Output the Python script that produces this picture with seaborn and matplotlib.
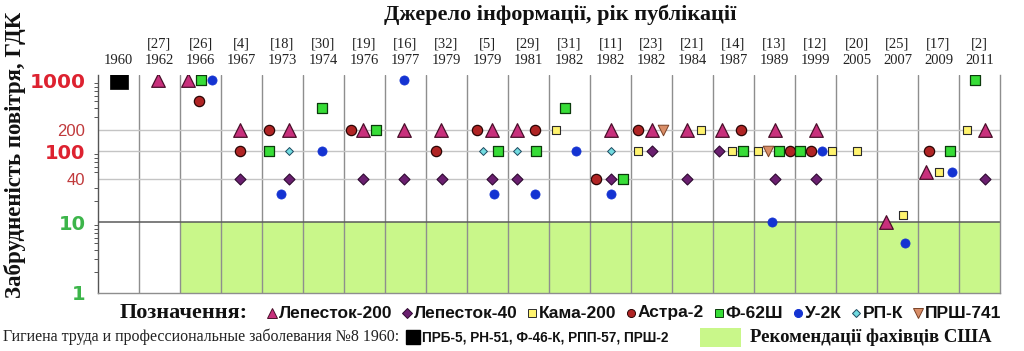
import numpy as np
import pandas as pd
import matplotlib
matplotlib.use("Agg")
import matplotlib.pyplot as plt
from matplotlib.lines import Line2D
from matplotlib.patches import Rectangle
from matplotlib.ticker import NullFormatter, LogLocator
import seaborn as sns

# ---------------- data ----------------
refs = ["", "[27]", "[26]", "[4]", "[18]", "[30]", "[19]", "[16]", "[32]", "[5]", "[29]",
        "[31]", "[11]", "[23]", "[21]", "[14]", "[13]", "[12]", "[20]", "[25]", "[17]", "[2]"]
years = ["1960", "1962", "1966", "1967", "1973", "1974", "1976", "1977", "1979", "1979", "1981",
         "1982", "1982", "1982", "1984", "1987", "1989", "1999", "2005", "2007", "2009", "2011"]

# x = column index (source) with in-column position, y = pollution in MAC units
lep200_x = [0.96, 1.70, 2.96, 4.16, 5.96, 6.96, 7.86, 9.11, 9.72, 12.0, 13.0, 13.87, 14.72, 16.0, 17.0, 18.72, 19.70, 21.13]
lep200_y = [1000, 1000, 200, 200, 200, 200, 200, 200, 200, 200, 200, 200, 200, 200, 200, 10, 50, 200]

lep40_x = [2.96, 4.16, 5.96, 6.96, 7.89, 9.11, 9.72, 12.0, 13.0, 13.87, 14.64, 16.0, 17.0, 21.13]
lep40_y = [40, 40, 40, 40, 40, 40, 40, 40, 100, 40, 100, 40, 40, 40]

kama_x = [10.68, 12.67, 14.20, 14.96, 15.60, 17.40, 18.0, 19.13, 20.0, 20.70]
kama_y = [200, 100, 200, 100, 100, 100, 100, 12.5, 50, 200]

astra_x = [1.96, 2.96, 3.68, 5.66, 7.74, 8.74, 10.16, 11.65, 12.67, 15.18, 16.38, 16.88, 19.76]
astra_y = [500, 100, 200, 200, 100, 200, 200, 40, 200, 200, 100, 100, 100]

f62_x = [2.0, 3.66, 4.96, 6.28, 9.26, 10.18, 10.89, 12.30, 15.23, 16.11, 16.63, 20.28, 20.89]
f62_y = [1000, 100, 400, 200, 100, 100, 400, 40, 100, 100, 100, 100, 1000]

u2k_x = [2.28, 3.96, 4.96, 6.96, 9.16, 10.16, 11.16, 12.0, 15.94, 17.16, 19.18, 20.33]
u2k_y = [1000, 25, 100, 1000, 25, 25, 100, 25, 10, 100, 5, 50]

rpk_x = [4.16, 8.89, 9.72, 12.0]
rpk_y = [100, 100, 100, 100]

prsh_x = [13.27, 15.84]
prsh_y = [200, 100]

prb_x = [0.0]
prb_y = [1000]

us_range_x = [1.5, 21.5]
us_range_lo = [1, 1]
us_range_hi = [10, 10]

ytick_vals = [1, 10, 40, 100, 200, 1000]

# ---------------- style ----------------
sns.set_theme(style="white")
plt.rcParams["font.family"] = ["Liberation Sans", "DejaVu Sans"]
SERIF = ["Liberation Serif", "DejaVu Serif"]

W, H = 1024, 351
fig = plt.figure(figsize=(W / 100, H / 100), dpi=100)
fig.patch.set_facecolor("white")
ax = fig.add_axes([98 / W, 1 - 293 / H, (1000 - 98) / W, (293 - 75) / H])
ax.set_facecolor("white")

ax.set_yscale("log")
ax.set_xlim(-0.5, 21.5)
ax.set_ylim(1, 1180)

# US recommendation area
ax.fill_between(us_range_x, us_range_lo, us_range_hi, color="#c9f78a", lw=0, zorder=0)

# grid
for v in [40, 100, 200]:
    ax.axhline(v, color="#c4c4c4", lw=1, zorder=1)
ax.axhline(10, color="#5a5a5a", lw=1.1, zorder=1)

series = [
    (prb_x, prb_y, "s", 12.5, "#000000", "#000000", 0.5),
    (lep200_x, lep200_y, "^", 9.8, "#c8307c", "#4a0f2a", 0.9),
    (lep40_x, lep40_y, "D", 5.6, "#6a1f6f", "#2e0a30", 0.8),
    (kama_x, kama_y, "s", 5.4, "#fff36e", "#2b2b2b", 0.8),
    (astra_x, astra_y, "o", 7.4, "#b02424", "#2a0505", 0.9),
    (f62_x, f62_y, "s", 6.6, "#37dd37", "#0c3a0c", 0.9),
    (u2k_x, u2k_y, "o", 6.6, "#1433d2", "#1433d2", 0.5),
    (rpk_x, rpk_y, "D", 4.0, "#72dbe0", "#1e4a60", 0.7),
    (prsh_x, prsh_y, "v", 7.6, "#d98e68", "#7a4226", 0.7),
]
for xs, ys, m, ms, fc, ec, lw in series:
    df = pd.DataFrame({"x": xs, "y": ys})
    sns.scatterplot(data=df, x="x", y="y", marker=m, s=ms ** 2, color=fc,
                    edgecolor=ec, linewidth=lw, ax=ax, zorder=3, legend=False)
ax.set_xlabel("")
ax.set_ylabel("")

# x: top labels + column separators
ax.xaxis.tick_top()
ax.set_xticks(np.arange(len(years)))
ax.set_xticklabels([(r + "\n" + y) if r else y for r, y in zip(refs, years)],
                   fontfamily=SERIF, fontsize=10.5, linespacing=1.3, color="#222222")
ax.set_xticks(np.arange(0.5, len(years) - 0.5, 1), minor=True)
ax.tick_params(axis="x", which="both", length=0, pad=6)
ax.grid(which="minor", axis="x", color="#8e8e8e", lw=1, zorder=1)
ax.grid(which="major", axis="x", visible=False)
ax.grid(which="both", axis="y", visible=False)

# y ticks
ax.set_yticks(ytick_vals)
ax.yaxis.set_minor_locator(LogLocator(base=10, subs=np.arange(2, 10)))
ax.yaxis.set_minor_formatter(NullFormatter())
ax.set_yticklabels([str(v) for v in ytick_vals])
ystyle = {
    1: ("bold", 14, "#3cb54a", ["DejaVu Sans"]),
    10: ("bold", 14, "#3cb54a", ["DejaVu Sans"]),
    40: ("normal", 12, "#c0393b", ["Liberation Sans"]),
    100: ("bold", 14, "#dd2230", ["DejaVu Sans"]),
    200: ("normal", 12, "#c0393b", ["Liberation Sans"]),
    1000: ("bold", 14.5, "#dd2230", ["DejaVu Sans"]),
}
for v, lab in zip(ytick_vals, ax.get_yticklabels()):
    wgt, fs, col, fam = ystyle[v]
    lab.set_fontweight(wgt)
    lab.set_fontsize(fs)
    lab.set_color(col)
    lab.set_family(fam)
ax.tick_params(axis="y", which="major", length=4, width=0.8, color="#555555", pad=5, direction="out")
ax.tick_params(axis="y", which="minor", length=3, width=0.7, color="#555555", direction="out", left=True)

ax.spines["top"].set_visible(False)
ax.spines["left"].set_color("#555555")
ax.spines["left"].set_linewidth(1)
ax.spines["bottom"].set_color("#8e8e8e")
ax.spines["bottom"].set_linewidth(1)
ax.spines["right"].set_color("#8e8e8e")
ax.spines["right"].set_linewidth(1)

# titles
fig.text(560 / W, 1 - 15 / H, "Джерело інформації, рік публікації", family=SERIF,
         fontweight="bold", fontsize=16, ha="center", va="center", color="#111111")
fig.text(15 / W, 1 - 155 / H, "Забрудненість повітря, ГДК", family=SERIF,
         fontweight="bold", fontsize=16.5, rotation=90, ha="center", va="center", color="#111111")

# ---------------- legend row 1 ----------------
fig.text(120 / W, 1 - 313 / H, "Позначення:", family=SERIF, fontweight="bold",
         fontsize=16, ha="left", va="center", color="#111111")

leg_items = [
    ("^", 7.2, "#c8307c", "#4a0f2a", "Лепесток-200"),
    ("D", 4.8, "#6a1f6f", "#2e0a30", "Лепесток-40"),
    ("s", 5.4, "#fff36e", "#2b2b2b", "Кама-200"),
    ("o", 5.8, "#b02424", "#2a0505", "Астра-2"),
    ("s", 5.8, "#37dd37", "#0c3a0c", "Ф-62Ш"),
    ("o", 5.8, "#1433d2", "#1433d2", "У-2К"),
    ("D", 4.4, "#72dbe0", "#1e4a60", "РП-К"),
    ("v", 6.6, "#d98e68", "#7a4226", "ПРШ-741"),
]
fig.canvas.draw()
renderer = fig.canvas.get_renderer()
xpix = 272
yl = 1 - 313 / H
for m, ms, fc, ec, lab in leg_items:
    fig.add_artist(Line2D([xpix / W], [yl], transform=fig.transFigure, marker=m,
                          markersize=ms, markerfacecolor=fc, markeredgecolor=ec,
                          markeredgewidth=0.7, linestyle="none"))
    t = fig.text((xpix + 6.5) / W, yl, lab, fontsize=12.5, fontweight="bold",
                 family=["Liberation Sans", "DejaVu Sans"], ha="left", va="center", color="#111111")
    bb = t.get_window_extent(renderer)
    xpix = bb.x1 + 15

# ---------------- legend row 2 ----------------
y2 = 1 - 337 / H
fig.text(3 / W, y2, "Гигиена труда и профессиональные заболевания №8 1960:", family=SERIF,
         fontsize=11.5, ha="left", va="center", color="#222222")
fig.add_artist(Line2D([413 / W], [y2], transform=fig.transFigure, marker="s", markersize=9.5,
                      markerfacecolor="black", markeredgecolor="black", linestyle="none"))
fig.text(422 / W, y2, "ПРБ-5, РН-51, Ф-46-К, РПП-57, ПРШ-2",
         family=["Liberation Sans", "DejaVu Sans"],
         fontweight="bold", fontsize=9.8, ha="left", va="center", color="#111111")
fig.add_artist(Rectangle((700 / W, 1 - 347 / H), 41 / W, 19 / H, transform=fig.transFigure,
                         facecolor="#c9f78a", edgecolor="none"))
fig.text(750 / W, y2, "Рекомендації фахівців США", family=SERIF, fontweight="bold",
         fontsize=13.5, ha="left", va="center", color="#111111")

fig.savefig("out.png", dpi=100, facecolor="white")
